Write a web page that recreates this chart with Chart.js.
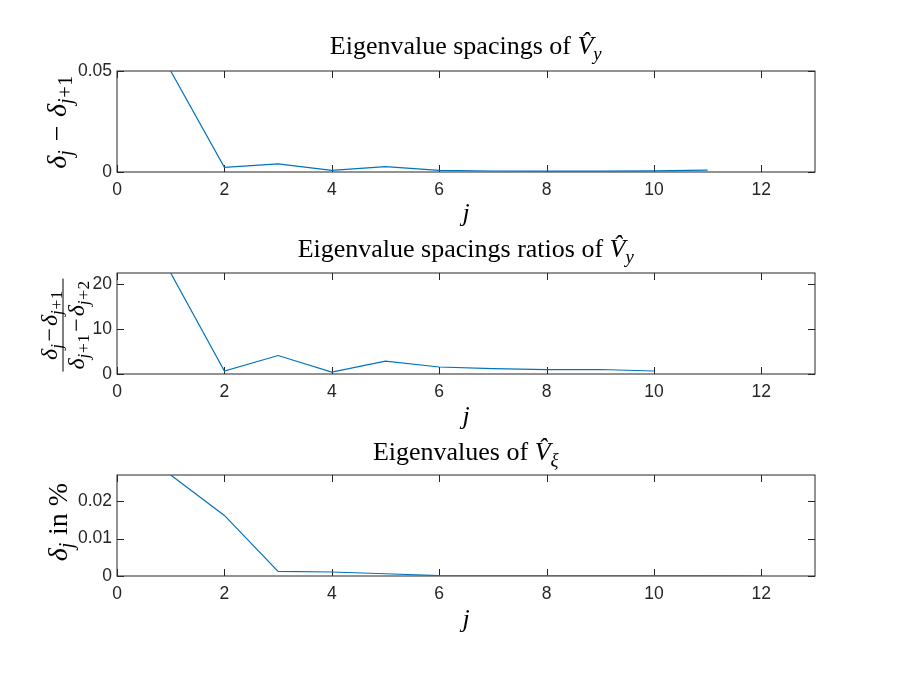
<!DOCTYPE html>
<html>
<head>
<meta charset="utf-8">
<script src="https://cdn.jsdelivr.net/npm/chart.js@4.4.0/dist/chart.umd.min.js"></script>
<style>
body { margin: 0; background: #fff; }
#fig { position: relative; width: 900px; height: 675px; overflow: hidden; font-family: "Liberation Serif", serif; color: #000; }
canvas { position: absolute; left: 0; }
.title, .xlab { position: absolute; left: 117px; width: 698px; text-align: center; font-size: 26px; line-height: 1; white-space: nowrap; }
.ylab { position: absolute; transform: translate(-50%, -50%) rotate(-90deg); font-size: 28px; line-height: 1; white-space: nowrap; }
sub { font-size: 0.72em; vertical-align: -0.3em; line-height: 0; letter-spacing: 0.03em; }
.op { margin: 0 0.3em; }
.frac { display: inline-block; text-align: center; vertical-align: middle; font-size: 24px; }
.frac .num { display: block; padding: 0 2px 2px; }
.frac .den { display: block; border-top: 1px solid #000; padding: 0 2px 0; }
.frac .op { margin: 0 0.08em; }
</style>
</head>
<body>
<div id="fig">
  <canvas id="c1" width="900" height="140" style="top:60px"></canvas>
  <canvas id="c2" width="900" height="140" style="top:262px"></canvas>
  <canvas id="c3" width="900" height="140" style="top:465px"></canvas>

  <div class="title" style="top:33px">Eigenvalue spacings of <i>V̂</i><sub><i>y</i></sub></div>
  <div class="title" style="top:236px">Eigenvalue spacings ratios of <i>V̂</i><sub><i>y</i></sub></div>
  <div class="title" style="top:439px">Eigenvalues of <i>V̂</i><sub><i>ξ</i></sub></div>

  <div class="xlab" style="top:200px"><i>j</i></div>
  <div class="xlab" style="top:403px"><i>j</i></div>
  <div class="xlab" style="top:606px"><i>j</i></div>

  <div class="ylab" style="left:57px; top:122px"><i>δ</i><sub><i>j</i></sub><span class="op">−</span><i>δ</i><sub><i>j</i>+1</sub></div>
  <div class="ylab" style="left:62px; top:325px"><span class="frac"><span class="num"><i>δ</i><sub><i>j</i></sub><span class="op">−</span><i>δ</i><sub><i>j</i>+1</sub></span><span class="den"><i>δ</i><sub><i>j</i>+1</sub><span class="op">−</span><i>δ</i><sub><i>j</i>+2</sub></span></span></div>
  <div class="ylab" style="left:58px; top:522px"><i>δ</i><sub><i>j</i></sub> in %</div>
</div>
<script>
// valores
const xTickVals = [0, 2, 4, 6, 8, 10, 12];

const jSpacings = [1, 2, 3, 4, 5, 6, 7, 8, 9, 10, 11];
const spacings = [0.05, 0.0023, 0.004, 0.0008, 0.0027, 0.0008, 0.0005, 0.0004, 0.0004, 0.0006, 0.0009];
const spacingsTicks = [0, 0.05];

const jRatios = [1, 2, 3, 4, 5, 6, 7, 8, 9, 10];
const ratios = [22.4, 0.66, 4.1, 0.44, 2.87, 1.55, 1.2, 0.95, 1.0, 0.66];
const ratiosTicks = [0, 10, 20];

const jEigen = [1, 2, 3, 4, 5, 6, 7, 8, 9, 10, 11, 12];
const eigenvalues = [0.027, 0.0162, 0.00125, 0.00107, 0.0006, 0.00012, 0.00006, 0.00004, 0.00003, 0.00002, 0.00001, 0.000005];
const eigenTicks = [0, 0.01, 0.02];

const axisColor = '#262626';
const lineColor = '#0072BD';

// caja y marcas hacia dentro, estilo MATLAB
const boxTicks = {
    id: 'boxTicks',
    beforeDatasetsDraw(chart) {
        const { ctx, chartArea: a, scales } = chart;
        ctx.save();
        ctx.strokeStyle = axisColor;
        ctx.lineWidth = 1;
        ctx.strokeRect(a.left, a.top, a.right - a.left, a.bottom - a.top);
        ctx.beginPath();
        scales.x.ticks.forEach(t => {
            const px = Math.round(scales.x.getPixelForValue(t.value)) + 0.5;
            ctx.moveTo(px, a.bottom); ctx.lineTo(px, a.bottom - 7);
            ctx.moveTo(px, a.top); ctx.lineTo(px, a.top + 7);
        });
        scales.y.ticks.forEach(t => {
            const py = Math.round(scales.y.getPixelForValue(t.value)) + 0.5;
            ctx.moveTo(a.left, py); ctx.lineTo(a.left + 7, py);
            ctx.moveTo(a.right, py); ctx.lineTo(a.right - 7, py);
        });
        ctx.stroke();
        ctx.restore();
    }
};

function crearPanel(id, xs, ys, yMax, yTicks, padTop, xHeight) {
    const ctx = document.getElementById(id).getContext('2d');
    return new Chart(ctx, {
        type: 'line',
        data: {
            datasets: [{
                data: xs.map((x, i) => ({ x: x, y: ys[i] })),
                borderColor: lineColor,
                borderWidth: 1.2,
                pointRadius: 0,
                tension: 0,
                fill: false
            }]
        },
        options: {
            responsive: false,
            animation: false,
            layout: { padding: { left: 0, right: 85, top: padTop, bottom: 0 } },
            plugins: { legend: { display: false }, tooltip: { enabled: false } },
            scales: {
                x: {
                    type: 'linear',
                    min: 0,
                    max: 13,
                    afterBuildTicks: s => { s.ticks = xTickVals.map(v => ({ value: v })); },
                    afterFit: s => { s.height = xHeight; s.paddingLeft = 0; s.paddingRight = 0; },
                    grid: { display: false, drawTicks: false },
                    border: { display: false },
                    ticks: {
                        color: axisColor,
                        padding: 8,
                        maxRotation: 0,
                        font: { family: '"Liberation Sans", Arial, sans-serif', size: 17.5 },
                        callback: v => String(v)
                    }
                },
                y: {
                    min: 0,
                    max: yMax,
                    afterBuildTicks: s => { s.ticks = yTicks.map(v => ({ value: v })); },
                    afterFit: s => { s.width = 117; s.paddingTop = 0; s.paddingBottom = 0; },
                    grid: { display: false, drawTicks: false },
                    border: { display: false },
                    ticks: {
                        color: axisColor,
                        padding: 5,
                        font: { family: '"Liberation Sans", Arial, sans-serif', size: 17.5 },
                        callback: v => String(v)
                    }
                }
            }
        },
        plugins: [boxTicks]
    });
}

crearPanel('c1', jSpacings, spacings, 0.05, spacingsTicks, 11, 28);
crearPanel('c2', jRatios, ratios, 22.4, ratiosTicks, 11, 28);
crearPanel('c3', jEigen, eigenvalues, 0.027, eigenTicks, 10, 29);
</script>
</body>
</html>
